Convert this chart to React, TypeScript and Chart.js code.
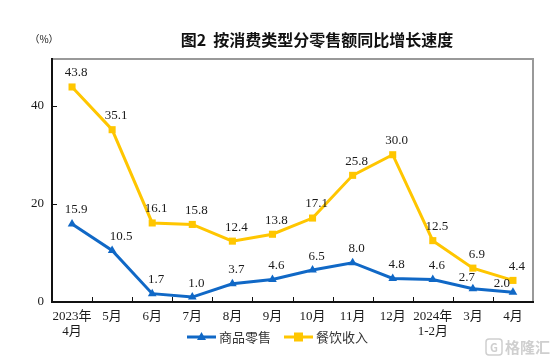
import React, { useEffect, useRef } from "react";
import { Chart, registerables } from "chart.js";

Chart.register(...registerables);

const categories: (string | string[])[] = [
  ["2023年", "4月"], "5月", "6月", "7月", "8月", "9月", "10月", "11月", "12月", ["2024年", "1-2月"], "3月", "4月",
];
const retailGoods = [15.9, 10.5, 1.7, 1.0, 3.7, 4.6, 6.5, 8.0, 4.8, 4.6, 2.7, 2.0];
const cateringIncome = [43.8, 35.1, 16.1, 15.8, 12.4, 13.8, 17.1, 25.8, 30.0, 12.5, 6.9, 4.4];
const seriesNames = ["商品零售", "餐饮收入"];
const yTickValues = [0, 20, 40];
const titleText = "图2  按消费类型分零售额同比增长速度";
const unitText = "（%）";

const BLUE = "#1068C6";
const YELLOW = "#FFC600";
const SERIF = "'Liberation Serif', 'Times New Roman', 'Noto Sans CJK SC', serif";
const CJK = "'Noto Sans CJK SC', sans-serif";

// label nudges (dataset index -> point index -> [dx, dy]) to avoid overlaps, as in the original
const labelNudge: Record<string, [number, number]> = {
  "0-1": [5, 0],
  "0-10": [-10, 3],
  "0-11": [-15, 5],
};

const decorPlugin = {
  id: "decor",
  afterDatasetsDraw(chart: any) {
    const ctx = chart.ctx;
    const { left, right, top, bottom } = chart.chartArea;
    ctx.save();
    // frame
    ctx.lineWidth = 2;
    ctx.strokeStyle = "#999999";
    ctx.beginPath();
    ctx.moveTo(left, top);
    ctx.lineTo(right, top);
    ctx.lineTo(right, bottom);
    ctx.stroke();
    ctx.strokeStyle = "#111111";
    ctx.beginPath();
    ctx.moveTo(left, top - 1);
    ctx.lineTo(left, bottom);
    ctx.lineTo(right + 1, bottom);
    ctx.stroke();
    // inward tick marks
    ctx.lineWidth = 1;
    const n = categories.length;
    const w = (right - left) / n;
    ctx.beginPath();
    for (let i = 1; i < n; i++) {
      const x = Math.round(left + i * w) + 0.5;
      ctx.moveTo(x, bottom);
      ctx.lineTo(x, bottom - 5);
    }
    const ys = chart.scales.y;
    yTickValues.forEach((v) => {
      if (v === 0) return;
      const y = Math.round(ys.getPixelForValue(v)) + 0.5;
      ctx.moveTo(left, y);
      ctx.lineTo(left + 5, y);
    });
    ctx.stroke();

    // data labels
    ctx.font = `13px ${SERIF}`;
    ctx.fillStyle = "#1a1a1a";
    ctx.textAlign = "center";
    ctx.textBaseline = "middle";
    chart.data.datasets.forEach((ds: any, di: number) => {
      const meta = chart.getDatasetMeta(di);
      meta.data.forEach((pt: any, i: number) => {
        const v = ds.data[i];
        const nd = labelNudge[`${di}-${i}`] || [0, 0];
        ctx.fillText(v.toFixed(1), pt.x + 4 + nd[0], pt.y - 14 + nd[1]);
      });
    });

    // title & unit
    ctx.fillStyle = "#111111";
    ctx.font = `bold 16px ${CJK}`;
    ctx.textAlign = "center";
    ctx.fillText(titleText, 317, 40);
    ctx.font = `10px ${CJK}`;
    ctx.fillText(unitText, 44, 39);

    // legend
    const legY = 337;
    const items = [
      { x: 187, color: BLUE, marker: "tri" },
      { x: 284, color: YELLOW, marker: "sq" },
    ];
    items.forEach((it, k) => {
      ctx.strokeStyle = it.color;
      ctx.lineWidth = 3;
      ctx.beginPath();
      ctx.moveTo(it.x, legY);
      ctx.lineTo(it.x + 29, legY);
      ctx.stroke();
      ctx.fillStyle = it.color;
      const cx = it.x + 14.5;
      if (it.marker === "tri") {
        ctx.beginPath();
        ctx.moveTo(cx, legY - 5);
        ctx.lineTo(cx + 4.5, legY + 3);
        ctx.lineTo(cx - 4.5, legY + 3);
        ctx.closePath();
        ctx.fill();
      } else {
        ctx.fillRect(cx - 4.5, legY - 4.5, 9, 9);
      }
      ctx.fillStyle = "#333333";
      ctx.font = `13px ${CJK}`;
      ctx.textAlign = "left";
      ctx.fillText(chart.data.datasets[k].label, it.x + 32, legY);
    });

    // watermark
    ctx.strokeStyle = "#cfcfcf";
    ctx.lineWidth = 1.5;
    ctx.beginPath();
    ctx.roundRect(486, 339, 16, 16, 3);
    ctx.stroke();
    ctx.fillStyle = "#cfcfcf";
    ctx.font = `bold 11px ${CJK}`;
    ctx.textAlign = "center";
    ctx.fillText("G", 494, 347.5);
    ctx.font = `bold 15px ${CJK}`;
    ctx.textAlign = "left";
    ctx.fillText("格隆汇", 505, 347.5);
    ctx.restore();
  },
};

export default function App() {
  const ref = useRef<HTMLCanvasElement>(null);
  useEffect(() => {
    if (!ref.current) return;
    const chart = new Chart(ref.current, {
      type: "line",
      data: {
        labels: categories,
        datasets: [
          {
            label: seriesNames[0],
            data: retailGoods,
            borderColor: BLUE,
            backgroundColor: BLUE,
            borderWidth: 3,
            pointStyle: "triangle",
            pointRadius: 5,
            pointBorderWidth: 0,
            tension: 0,
            clip: false as any,
          },
          {
            label: seriesNames[1],
            data: cateringIncome,
            borderColor: YELLOW,
            backgroundColor: YELLOW,
            borderWidth: 3,
            pointStyle: "rect",
            pointRadius: 5,
            pointBorderWidth: 0,
            tension: 0,
            clip: false as any,
          },
        ],
      },
      options: {
        responsive: false,
        animation: false,
        layout: { padding: { top: 59, right: 21, left: 0, bottom: 0 } },
        plugins: {
          legend: { display: false },
          tooltip: { enabled: false },
          title: { display: false },
        },
        scales: {
          x: {
            offset: true,
            grid: { display: false, drawTicks: false },
            border: { display: false },
            ticks: {
              padding: 7,
              color: "#1a1a1a",
              font: { family: SERIF, size: 13, lineHeight: 1.15 },
              maxRotation: 0,
              autoSkip: false,
            },
            afterFit: (s: any) => {
              s.height = 60;
            },
          },
          y: {
            min: 0,
            max: 49.5,
            grid: { display: false, drawTicks: false },
            border: { display: false },
            ticks: {
              stepSize: 20,
              padding: 8,
              color: "#1a1a1a",
              font: { family: SERIF, size: 13 },
            },
            afterBuildTicks: (s: any) => {
              s.ticks = yTickValues.map((v) => ({ value: v }));
            },
            afterFit: (s: any) => {
              s.width = 52;
            },
          },
        },
      },
      plugins: [decorPlugin],
    });
    return () => chart.destroy();
  }, []);
  return (
    <div style={{ position: "absolute", left: 0, top: 0, width: 554, height: 362, background: "#fff" }}>
      <canvas ref={ref} width={554} height={362} style={{ display: "block" }} />
    </div>
  );
}
